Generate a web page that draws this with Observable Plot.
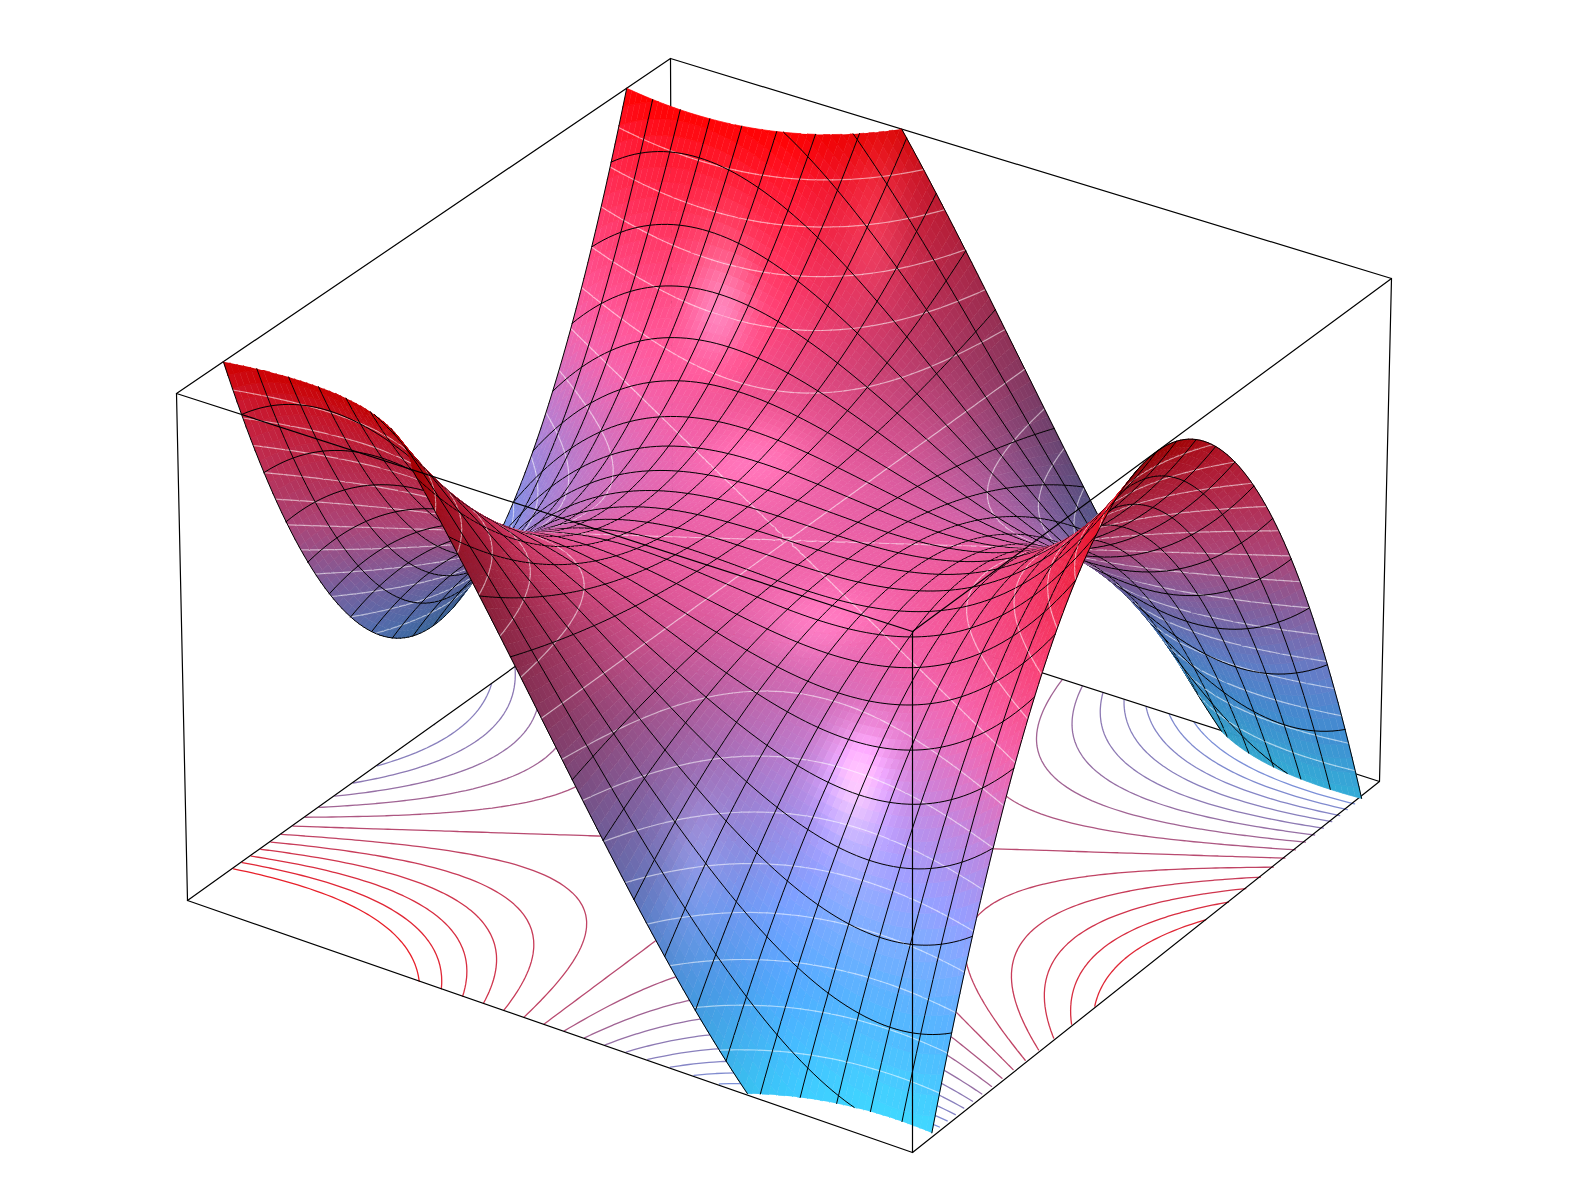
<!DOCTYPE html>
<html><head><meta charset="utf-8">
<style>html,body{margin:0;padding:0;background:#fff}svg{display:block}</style>
<script src="https://cdn.jsdelivr.net/npm/d3@7"></script>
<script src="https://cdn.jsdelivr.net/npm/@observablehq/plot@0.6"></script>
</head><body><div id="chart"></div>
<script>
// Surface heights on the 25 x 25 mesh, read as units of 1/1728. One row per x step; columns are |y| steps 0..12.
const heightRows=[
[-1728,-1692,-1584,-1404,-1152,-828,-432,36,576,1188,1872,2628,3456],
[-1331,-1298,-1199,-1034,-803,-506,-143,286,781,1342,1969,2662,3421],
[-1000,-970,-880,-730,-520,-250,80,470,920,1430,2000,2630,3320],
[-729,-702,-621,-486,-297,-54,243,594,999,1458,1971,2538,3159],
[-512,-488,-416,-296,-128,88,352,664,1024,1432,1888,2392,2944],
[-343,-322,-259,-154,-7,182,413,686,1001,1358,1757,2198,2681],
[-216,-198,-144,-54,72,234,432,666,936,1242,1584,1962,2376],
[-125,-110,-65,10,115,250,415,610,835,1090,1375,1690,2035],
[-64,-52,-16,44,128,236,368,524,704,908,1136,1388,1664],
[-27,-18,9,54,117,198,297,414,549,702,873,1062,1269],
[-8,-2,16,46,88,142,208,286,376,478,592,718,856],
[-1,2,11,26,47,74,107,146,191,242,299,362,431],
[0,0,0,0,0,0,0,0,0,0,0,0,0],
[1,-2,-11,-26,-47,-74,-107,-146,-191,-242,-299,-362,-431],
[8,2,-16,-46,-88,-142,-208,-286,-376,-478,-592,-718,-856],
[27,18,-9,-54,-117,-198,-297,-414,-549,-702,-873,-1062,-1269],
[64,52,16,-44,-128,-236,-368,-524,-704,-908,-1136,-1388,-1664],
[125,110,65,-10,-115,-250,-415,-610,-835,-1090,-1375,-1690,-2035],
[216,198,144,54,-72,-234,-432,-666,-936,-1242,-1584,-1962,-2376],
[343,322,259,154,7,-182,-413,-686,-1001,-1358,-1757,-2198,-2681],
[512,488,416,296,128,-88,-352,-664,-1024,-1432,-1888,-2392,-2944],
[729,702,621,486,297,54,-243,-594,-999,-1458,-1971,-2538,-3159],
[1000,970,880,730,520,250,-80,-470,-920,-1430,-2000,-2630,-3320],
[1331,1298,1199,1034,803,506,143,-286,-781,-1342,-1969,-2662,-3421],
[1728,1692,1584,1404,1152,828,432,-36,-576,-1188,-1872,-2628,-3456]];
const heightUnit=1728;
const zLow=-1.5, zHigh=1;
const contourLevels=[-8/6,-7/6,-1,-5/6,-4/6,-3/6,-2/6,-1/6,0,1/6,2/6,3/6,4/6,5/6,1];
const surfaceColorZ=[-1.5,-1.1,-0.8,-0.4,0,0.4,0.8,1];
const surfaceColors=[[60,205,255],[80,170,255],[120,160,255],[175,130,215],[235,95,165],[250,60,110],[255,25,50],[255,0,0]];
const baseColorZ=[-1.33,-0.6,0,1];
const baseColors=["#7c90d8","#8f78b0","#b84a70","#e8202a"];
// Camera: box corners as they appear in the picture
const topCorners={L:[176,393],F:[912,631],B:[670,58],R:[1391,278]};
const bottomCorners={L:[187,900],F:[912,1152],R:[1379,781]};
const boxHeight=1.5, subdiv=5;

function gauss(A,b){const n=b.length,M=A.map((r,i)=>[...r,b[i]]);
 for(let c=0;c<n;c++){let p=c;for(let r=c+1;r<n;r++)if(Math.abs(M[r][c])>Math.abs(M[p][c]))p=r;[M[c],M[p]]=[M[p],M[c]];
  for(let r=0;r<n;r++)if(r!==c){const f=M[r][c]/M[c][c];for(let k=c;k<=n;k++)M[r][k]-=f*M[c][k];}}
 return M.map((r,i)=>r[n]/r[i]);}
const cornerXY={L:[-1,-1],F:[1,-1],B:[-1,1],R:[1,1]};
let A=[],b=[];
for(const k in topCorners){const[x,y]=cornerXY[k],[u,v]=topCorners[k];
 A.push([x,y,1,0,0,0,-u*x,-u*y]);b.push(u);A.push([0,0,0,x,y,1,-v*x,-v*y]);b.push(v);}
const h=gauss(A,b);
const H=(x,y)=>[h[0]*x+h[1]*y+h[2],h[3]*x+h[4]*y+h[5],h[6]*x+h[7]*y+1];
const N3=[[0,0,0],[0,0,0],[0,0,0]],R3=[0,0,0];
for(const k in bottomCorners){const[x,y]=cornerXY[k],[u,v]=bottomCorners[k],p=H(x,y);
 for(const[row,rhs]of[[[1,0,-u],u*p[2]-p[0]],[[0,1,-v],v*p[2]-p[1]]]){
  for(let i=0;i<3;i++){R3[i]+=row[i]*rhs;for(let j=0;j<3;j++)N3[i][j]+=row[i]*row[j];}}}
const C=gauss(N3,R3);
function proj(x,y,z){const s=1-(z-zLow)/(zHigh-zLow),p=H(x,y),w=p[2]+s*C[2];return[(p[0]+s*C[0])/w,(p[1]+s*C[1])/w];}
const camS=gauss([[h[0],h[1],C[0]],[h[3],h[4],C[1]],[h[6],h[7],C[2]]],[-h[2],-h[5],-1]);
const cam=[camS[0],camS[1],(1-camS[2])*boxHeight];
const worldZ=z=>(z-zLow)/(zHigh-zLow)*boxHeight;

const n=heightRows.length,mid=(n-1)/2;
const Z0=(i,j)=>heightRows[i][Math.abs(j-mid)]/heightUnit;
// fine rendering lattice threaded through the table's values (4-point Lagrange per axis)
const M=(n-1)*subdiv,fStep=2/M;
const lag=t=>[-t*(t-1)*(t-2)/6,(t+1)*(t-1)*(t-2)/2,-(t+1)*t*(t-2)/2,(t+1)*t*(t-1)/6];
const base4=u=>{let i=Math.floor(u);i=Math.max(1,Math.min(n-3,i));return[i,u-i];};
const fz=d3.range(M+1).map(a=>d3.range(M+1).map(c=>{
 const[i,s]=base4(a/subdiv),[j,t]=base4(c/subdiv),ls=lag(s),lt=lag(t);let v=0;
 for(let p=0;p<4;p++)for(let q=0;q<4;q++)v+=ls[p]*lt[q]*Z0(i-1+p,j-1+q);return v;}));
const fx=a=>-1+a*fStep;
const stopsColor=d3.scaleLinear().domain(surfaceColorZ).range(surfaceColors.map(c=>`rgb(${c})`)).clamp(true);
const baseColor=d3.scaleLinear().domain(baseColorZ).range(baseColors).clamp(true);
const unit=v=>{const l=Math.hypot(...v);return v.map(a=>a/l)};
const dot=(a,b)=>a[0]*b[0]+a[1]*b[1]+a[2]*b[2];
const diffuseL=unit([-0.3,-0.5,0.8]),fillL=unit([0.3,-0.8,-0.5]),sideL=unit([0.2,0.8,0.5]);
const centerV=unit([cam[0],cam[1],cam[2]-worldZ(0)]);
const reflectAbout=hv=>{const d=dot(hv,centerV);return unit(hv.map((q,k)=>2*d*q-centerV[k]));};
const specs=[[reflectAbout(unit([0,-0.24,1])),0.10,70],[reflectAbout(unit([0,-1.15,1])),0.26,100],[reflectAbout(unit([1.1,-0.95,1])),0.09,130]];
const S=boxHeight/(zHigh-zLow);
function shade(a,c){
 const x=fx(a),y=fx(c),z=fz[a][c];
 const a0=Math.max(0,a-1),a1=Math.min(M,a+1),c0=Math.max(0,c-1),c1=Math.min(M,c+1);
 const zx=(fz[a1][c]-fz[a0][c])/((a1-a0)*fStep),zy=(fz[a][c1]-fz[a][c0])/((c1-c0)*fStep);
 let nn=unit([-zx*S,-zy*S,1]);
 const v=unit([cam[0]-x,cam[1]-y,cam[2]-worldZ(z)]);
 if(dot(nn,v)<0)nn=nn.map(q=>-q);
 const col=d3.rgb(stopsColor(z));
 const d3l=Math.max(0,dot(nn,sideL));
 const li=0.43+0.6*Math.max(0,dot(nn,diffuseL))+0.3*Math.max(0,dot(nn,fillL))+0.3*d3l*d3l;
 let sp=0;for(const[Ls,amp,p]of specs)sp+=amp*Math.pow(Math.max(0,dot(nn,unit([Ls[0]+v[0],Ls[1]+v[1],Ls[2]+v[2]]))),p);
 return[col.r*li+255*sp,col.g*li+255*sp,col.b*li+255*sp];
}
const vCol=d3.range(M+1).map(a=>d3.range(M+1).map(c=>shade(a,c)));
function clipPoly(poly){
 for(const[lim,sgn]of[[zHigh,1],[zLow,-1]]){
  const out=[];for(let k=0;k<poly.length;k++){const a=poly[k],b=poly[(k+1)%poly.length];
   const ia=sgn*(a[2]-lim)<=0,ib=sgn*(b[2]-lim)<=0;
   if(ia)out.push(a);
   if(ia!==ib){const t=(lim-a[2])/(b[2]-a[2]);out.push([a[0]+t*(b[0]-a[0]),a[1]+t*(b[1]-a[1]),lim]);}}
  poly=out;if(!poly.length)return poly;}
 return poly;}
function clipSeg(a,b){
 let t0=0,t1=1;for(const[lim,sgn]of[[zHigh,1],[zLow,-1]]){
  const fa=sgn*(a[2]-lim),fb=sgn*(b[2]-lim);
  if(fa>0&&fb>0)return null;
  if(fa>0)t0=Math.max(t0,fa/(fa-fb));
  if(fb>0)t1=Math.min(t1,fa/(fa-fb));}
 if(t0>=t1)return null;
 const L=t=>[a[0]+t*(b[0]-a[0]),a[1]+t*(b[1]-a[1]),a[2]+t*(b[2]-a[2])];
 return[L(t0),L(t1)];}
const segCell=(i,j,L)=>{
 const c=[[i,j],[i+1,j],[i+1,j+1],[i,j+1]],z=c.map(q=>fz[q[0]][q[1]]-L),cr=[];
 const keys=[`h${i}_${j}`,`v${i+1}_${j}`,`h${i}_${j+1}`,`v${i}_${j}`];
 for(let k=0;k<4;k++){const p=z[k],q=z[(k+1)%4];
  if((p<0)!==(q<0)){const t=p/(p-q),A=c[k],B=c[(k+1)%4];
   cr.push({k:keys[k],x:fx(A[0]+t*(B[0]-A[0])),y:fx(A[1]+t*(B[1]-A[1]))});}}
 if(cr.length===2)return[[cr[0],cr[1]]];
 if(cr.length===4){const m=(z[0]+z[1]+z[2]+z[3])/4;return (m<0)===(z[0]<0)?[[cr[0],cr[1]],[cr[2],cr[3]]]:[[cr[1],cr[2]],[cr[3],cr[0]]];}
 return[];};

const cells=[];
for(let a=0;a<M;a++)for(let c=0;c<M;c++){
 const x=fx(a)+fStep/2,y=fx(c)+fStep/2,z=(fz[a][c]+fz[a+1][c]+fz[a][c+1]+fz[a+1][c+1])/4;
 cells.push({a,c,d:Math.hypot(x-cam[0],y-cam[1],worldZ(Math.max(zLow,Math.min(zHigh,z)))-cam[2])});}
cells.sort((p,q)=>q.d-p.d);
const rank=new Int32Array((M+2)*(M+2)).fill(-1);
const rIdx=(a,c)=>(a+1)*(M+2)+(c+1);
cells.forEach((q,k)=>{rank[rIdx(q.a,q.c)]=k;});
const rk=(a,c)=>(a<0||c<0||a>=M||c>=M)?-1:rank[rIdx(a,c)];
const surf=[];let id=0;
const pushPoly=(poly,fill)=>{id++;for(const p of poly){const q=proj(p[0],p[1],p[2]);surf.push({px:q[0],py:q[1],id,fill,stroke:fill,sw:0.7,op:1});}};
const pushLine=(a,b,stroke,sw,op)=>{const s=clipSeg(a,b);if(!s)return;id++;for(const p of s){const q=proj(p[0],p[1],p[2]);surf.push({px:q[0],py:q[1],id,fill:"none",stroke,sw,op});}};
const V=(a,c)=>[fx(a),fx(c),fz[a][c]];
const ink="#000",inkW=1,inkO=1,wW=1.2,wO=0.55;
const zeroA=M/2;
for(const {a,c} of cells){
 const poly=clipPoly([V(a,c),V(a+1,c),V(a+1,c+1),V(a,c+1)]);
 if(poly.length<3)continue;
 const col=[0,1,2].map(k=>(vCol[a][c][k]+vCol[a+1][c][k]+vCol[a][c+1][k]+vCol[a+1][c+1][k])/4).map(q=>Math.round(Math.min(255,q)));
 pushPoly(poly,`rgb(${col})`);
 const me=rk(a,c);
 for(const L of contourLevels){ if(L===zHigh)continue; for(const[p,q] of segCell(a,c,L+1e-7)){
  if(L===0&&Math.abs(p.x)<0.004&&Math.abs(q.x)<0.004)continue;
  pushLine([p.x,p.y,L],[q.x,q.y,L],"#fff",wW,wO);}}
 if(a===zeroA&&me>rk(a-1,c))pushLine([0,fx(c),0],[0,fx(c+1),0],"#fff",wW,wO);
 if(a+1===zeroA&&me>rk(a+1,c))pushLine([0,fx(c),0],[0,fx(c+1),0],"#fff",wW,wO);
 if(c%subdiv===0&&me>rk(a,c-1))pushLine(V(a,c),V(a+1,c),ink,inkW,inkO);
 if((c+1)%subdiv===0&&me>rk(a,c+1))pushLine(V(a,c+1),V(a+1,c+1),ink,inkW,inkO);
 if(a!==zeroA&&a%subdiv===0&&me>rk(a-1,c))pushLine(V(a,c),V(a,c+1),ink,inkW,inkO);
 if(a+1!==zeroA&&(a+1)%subdiv===0&&me>rk(a+1,c))pushLine(V(a+1,c),V(a+1,c+1),ink,inkW,inkO);
}
const base=[];let bid=0;
for(const L of contourLevels){
 const segs=[];for(let i=0;i<M;i++)for(let j=0;j<M;j++)for(const s of segCell(i,j,L+1e-7))segs.push(s);
 const at=new Map();segs.forEach((s,k)=>{for(const e of s){if(!at.has(e.k))at.set(e.k,[]);at.get(e.k).push(k);}});
 const used=new Set();
 const walk=(start,k0)=>{const line=[];let k=k0,key=start;
  while(k!==undefined&&!used.has(k)){used.add(k);const s=segs[k],p=s[0].k===key?s[0]:s[1],q=s[0].k===key?s[1]:s[0];
   if(!line.length)line.push(p);line.push(q);key=q.k;k=(at.get(key)||[]).find(w=>!used.has(w));}
  return line;};
 for(const[key,list]of at)if(list.length===1&&!used.has(list[0])){const line=walk(key,list[0]);bid++;
  for(const p of line){const q=proj(p.x,p.y,zLow);base.push({px:q[0],py:q[1],id:bid,c:baseColor(L)});}}
}
const edge=(p,q)=>[{px:p[0],py:p[1],e:p+""+q},{px:q[0],py:q[1],e:p+""+q}];
const TL=topCorners.L,TF=topCorners.F,TB=topCorners.B,TR=topCorners.R,BL=bottomCorners.L,BF=bottomCorners.F,BR=bottomCorners.R;
const BB=proj(-1,1,zLow);
const boxBack=[[TL,TB],[TB,TR],[TL,BL],[TR,BR],[BL,BF],[BF,BR],[BL,BB],[BB,BR],[TB,BB]].flatMap(([p,q])=>edge(p,q));
const boxFront=[[TL,TF],[TF,TR],[TF,BF]].flatMap(([p,q])=>edge(p,q));

const chart=Plot.plot({width:1575,height:1181,margin:0,
 x:{domain:[0,1575],range:[0,1575],axis:null},y:{domain:[0,1181],range:[0,1181],axis:null},
 marks:[
  Plot.line(base,{x:"px",y:"py",z:"id",stroke:{value:"c",scale:null},strokeWidth:1.3}),
  Plot.line(boxBack,{x:"px",y:"py",z:"e",stroke:"#000",strokeWidth:1.2}),
  Plot.line(surf,{x:"px",y:"py",z:"id",fill:{value:"fill",scale:null},stroke:{value:"stroke",scale:null},strokeWidth:"sw",strokeOpacity:"op",curve:"linear"}),
  Plot.line(boxFront,{x:"px",y:"py",z:"e",stroke:"#000",strokeWidth:1.2})
 ]});
document.getElementById("chart").append(chart);
</script></body></html>
